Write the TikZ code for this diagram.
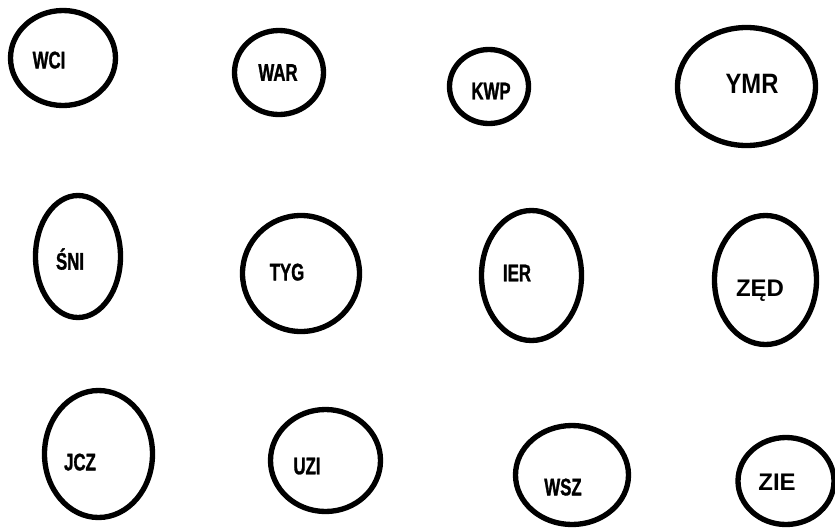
\documentclass[tikz,border=0pt]{standalone}
\usepackage{fontspec}
\setsansfont{Liberation Sans}
\newfontfamily\narrowfont[FakeStretch=0.7, FakeBold=1.2]{Liberation Sans}
\usetikzlibrary{shapes.geometric}

\tikzset{
  blob/.style={ellipse, draw, line width=4pt, inner sep=0pt},
  tag/.style={font=\narrowfont\bfseries\fontsize{18}{18}\selectfont, inner sep=0pt, text depth=0pt},
  tagwide/.style={font=\sffamily\bfseries\fontsize{18}{18}\selectfont, inner sep=0pt, text depth=0pt},
  tagbig/.style={font=\sffamily\bfseries\fontsize{21}{21}\selectfont, xscale=0.85, inner sep=0pt, text depth=0pt}
}

\begin{document}
\begin{tikzpicture}[x=0.75pt, y=-0.75pt]
  \useasboundingbox (0,0) rectangle (835,529);
  \clip (0,0) rectangle (835,529);
  % name, centre, width, height, text position, text style, text
  \foreach \n/\cx/\cy/\w/\h/\tx/\ty/\s/\t in {
      wci/63/58/105/95/49/60/tag/WCI,
      war/279/72.5/89/84/278/72.5/tag/WAR,
      kwp/489/86.5/79/74/491/91/tag/KWP,
      ymr/746.5/86.5/138/118/752/84/tagbig/YMR,
      sni/78/256.5/85/122/70/259/tag/ŚNI,
      tyg/301/273.5/117/116/287/272/tag/TYG,
      ier/531.5/275.5/100/130/517/273/tag/IER,
      zed/765.5/280/102/129/760/288/tagwide/ZĘD,
      jcz/98.5/454/108/127/80/462/tag/JCZ,
      uzi/325.5/460.5/110/102/307/466/tag/UZI,
      wsz/572/475/113/99/563/487/tag/WSZ,
      zie/786/481/96/87/777/482/tagwide/ZIE}{
    \node[blob, minimum width=\w*0.75pt, minimum height=\h*0.75pt] (\n) at (\cx,\cy) {};
    \node[\s] (\n-text) at (\tx,\ty) {\t};
  }
\end{tikzpicture}
\end{document}
